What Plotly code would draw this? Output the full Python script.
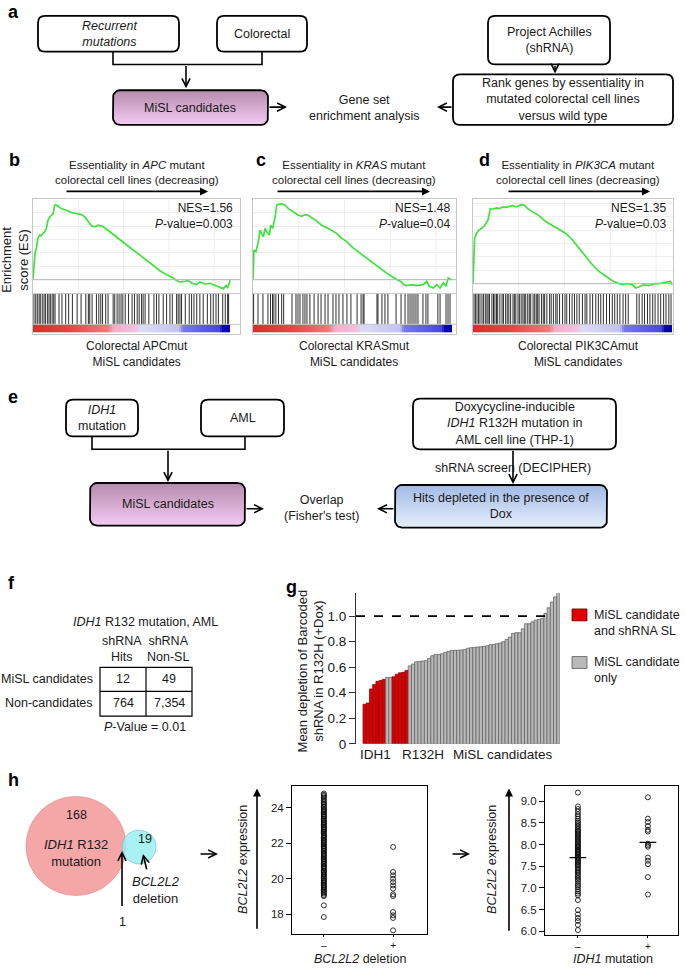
import math
import plotly.graph_objects as go

W, H = 685, 974
FONT = "Liberation Sans, Arial, Helvetica, sans-serif"
TXT = "#1a1a1a"

# ---------------- data ----------------
# Panels b-d: running enrichment score (x = rank in %, y = ES)
APC_RANK = [0, 0.5, 1.0, 1.7, 2.5, 3.4, 4.2, 5.1, 5.9, 6.8, 7.6, 8.5, 9.3, 10.2, 11.0, 11.5, 12.7, 14.4,
            16.9, 19.5, 22.0, 24.6, 26.3, 28.0, 29.7, 31.4, 33.1, 34.7, 36.4, 39.0, 41.5, 44.1, 47.5,
            50.8, 54.2, 57.6, 61.0, 64.4, 67.8, 71.2, 72.9, 74.6, 77.1, 78.8, 80.5, 83.1, 84.7, 87.3,
            89.8, 92.4, 94.9, 96.6, 98.0, 98.8, 99.7, 100]
APC_ES = [0, 0.111, 0.198, 0.235, 0.309, 0.333, 0.328, 0.346, 0.358, 0.383, 0.444, 0.469, 0.481, 0.494,
          0.556, 0.560, 0.548, 0.531, 0.519, 0.501, 0.494, 0.486, 0.469, 0.432, 0.402, 0.395, 0.407,
          0.402, 0.388, 0.358, 0.328, 0.296, 0.259, 0.222, 0.185, 0.148, 0.106, 0.067, 0.037, 0.012,
          -0.007, -0.017, -0.012, -0.007, -0.025, -0.037, -0.017, -0.032, -0.027, -0.042, -0.057,
          -0.067, -0.044, -0.057, -0.025, 0.005]
KRAS_RANK = [0, 0.5, 1.5, 2.7, 3.5, 4.4, 5.2, 6.1, 6.9, 8.2, 8.9, 9.9, 11.1, 11.9, 12.8, 14.4, 16.1,
             17.8, 20.3, 22.8, 24.5, 26.1, 27.8, 29.5, 32.0, 34.5, 37.9, 42.0, 44.5, 47.1, 50.4, 53.8,
             57.1, 60.5, 63.8, 67.2, 70.5, 73.0, 74.7, 75.5, 77.2, 79.7, 82.3, 85.6, 87.3, 88.6, 90.6,
             92.3, 94.0, 95.6, 97.0, 98.1, 99.8]
KRAS_ES = [0, 0.222, 0.210, 0.284, 0.370, 0.346, 0.321, 0.383, 0.358, 0.333, 0.407, 0.383, 0.469, 0.556,
           0.563, 0.568, 0.556, 0.531, 0.506, 0.481, 0.474, 0.486, 0.481, 0.464, 0.437, 0.407, 0.383,
           0.346, 0.310, 0.284, 0.235, 0.198, 0.160, 0.123, 0.086, 0.049, 0.017, -0.007, -0.017,
           -0.037, -0.044, -0.037, -0.044, -0.037, -0.012, -0.049, -0.062, -0.037, -0.062, -0.025,
           -0.049, 0.012, 0.0]
PIK3CA_RANK = [0, 0.3, 0.8, 1.7, 3.0, 4.2, 5.8, 7.5, 8.7, 10.0, 11.7, 13.3, 15.0, 16.7, 18.3, 20.0, 21.7,
               24.2, 25.8, 27.5, 30.0, 33.3, 36.7, 40.0, 43.3, 46.7, 50.0, 53.3, 56.7, 60.0, 63.3, 66.7,
               70.0, 72.5, 75.0, 77.5, 80.0, 81.7, 83.3, 85.8, 88.3, 91.7, 94.2, 96.7, 99.2, 100]
PIK3CA_ES = [0, 0.190, 0.338, 0.375, 0.400, 0.412, 0.432, 0.474, 0.560, 0.556, 0.565, 0.560, 0.573, 0.570,
             0.578, 0.585, 0.573, 0.590, 0.585, 0.560, 0.536, 0.506, 0.462, 0.432, 0.400, 0.375, 0.326,
             0.264, 0.202, 0.141, 0.091, 0.054, 0.022, 0.005, -0.007, 0.0, -0.007, -0.032, -0.025,
             -0.007, -0.015, 0.0, 0.002, 0.010, 0.017, -0.007]
# gene-set hit positions (rank in %)
APC_HITS = [0.5, 1.4, 2.2, 3.1, 3.7, 4.7, 5.6, 6.3, 7.3, 8.1, 8.8, 9.7, 10.5, 11.2, 13.2, 14.7, 16.6, 18.1,
            20.0, 22.4, 24.4, 26.8, 28.1, 28.8, 30.0, 32.2, 33.4, 34.4, 35.3, 36.9, 38.1, 40.7, 41.5,
            42.7, 43.7, 44.7, 45.6, 46.8, 48.5, 50.3, 51.5, 52.9, 53.9, 55.1, 55.9, 56.9, 58.8, 61.4,
            62.7, 63.9, 66.1, 67.8, 69.5, 70.7, 72.9, 73.7, 74.6, 75.4, 77.3, 79.3, 80.5, 81.7, 83.1,
            84.7, 86.4, 88.5, 90.2, 91.5, 92.9, 94.1, 96.3, 97.6, 98.8, 99.3]
KRAS_HITS = [0.3, 2.5, 5.0, 7.5, 8.8, 9.8, 10.5, 11.5, 12.8, 14.4, 15.4, 19.6, 21.6, 22.6, 23.6, 25.1,
             26.1, 27.1, 28.6, 30.7, 32.7, 34.2, 36.2, 37.7, 40.2, 41.7, 43.2, 45.2, 47.2, 49.2, 52.3,
             54.3, 55.3, 55.8, 62.3, 62.8, 64.8, 66.3, 67.8, 71.9, 74.4, 76.4, 77.9, 78.9, 79.9, 80.9,
             81.9, 82.9, 85.4, 86.9, 87.9, 92.9, 94.0, 97.0, 98.0, 99.0]
PIK3CA_HITS = [0.5, 1.2, 2.0, 2.8, 3.5, 4.5, 5.3, 6.2, 7.0, 7.6, 8.3, 9.5, 10.3, 11.0, 11.8, 12.4, 13.5,
               14.6, 15.3, 16.4, 17.2, 18.0, 18.9, 20.1, 20.8, 21.5, 22.6, 23.3, 24.2, 25.1, 25.8, 26.5,
               27.5, 28.3, 29.0, 30.2, 31.0, 31.8, 32.5, 33.2, 34.4, 35.3, 36.0, 37.1, 38.5, 39.3, 40.4,
               41.6, 42.3, 43.5, 45.0, 46.2, 47.1, 48.5, 49.8, 51.0, 52.2, 53.4, 55.0, 56.3, 57.2, 58.8,
               60.1, 61.7, 63.0, 64.2, 65.5, 67.1, 68.6, 70.0, 71.2, 72.5, 73.8, 75.4, 76.7, 78.0, 82.3,
               83.5, 85.0, 86.2, 87.7, 88.9, 90.3, 91.5, 93.0, 94.3, 95.8, 97.0, 98.4, 99.5]
GSEA_GENES = ["APC", "KRAS", "PIK3CA"]
GSEA_NES = ["1.56", "1.48", "1.35"]
GSEA_P = ["0.003", "0.04", "0.03"]
GSEA_LABELS = ["Colorectal APCmut", "Colorectal KRASmut", "Colorectal PIK3CAmut"]

# Panel f: contingency table
TABLE_ROWS = ["MiSL candidates", "Non-candidates"]
TABLE_COLS = ["shRNA<br>Hits", "shRNA<br>Non-SL"]
TABLE_VALUES = [["12", "49"], ["764", "7,354"]]
FISHER_P = "0.01"

# Panel g: mean depletion per MiSL candidate (sorted)
DEPLETION = [0.31, 0.32, 0.43, 0.465, 0.49, 0.495, 0.505, 0.52, 0.52, 0.525, 0.545, 0.556, 0.56, 0.575,
             0.61, 0.625, 0.643, 0.645, 0.648, 0.653, 0.67, 0.69, 0.70, 0.70, 0.705, 0.716, 0.724, 0.73,
             0.732, 0.733, 0.735, 0.738, 0.748, 0.753, 0.755, 0.758, 0.76, 0.763, 0.768, 0.776, 0.778,
             0.784, 0.789, 0.80, 0.818, 0.836, 0.865, 0.87, 0.87, 0.90, 0.94, 0.94, 0.955, 0.968, 0.975,
             0.98, 1.02, 1.065, 1.11, 1.15, 1.19]
DEPLETION_GROUP = ["sl"] * 7 + ["only"] * 2 + ["sl"] * 5 + ["only"] * 47
DEPLETION_THRESHOLD = 1.0

# Panel h
VENN_IDH1 = "168"
VENN_BCL2L2 = "19"
VENN_BOTH = "1"
DEL_NEG = [17.84, 18.5, 19.02, 19.08, 19.17, 19.24, 19.33, 19.39, 19.47, 19.52, 19.61, 19.66, 19.74,
           19.79, 19.88, 19.92, 20.01, 20.07, 20.12, 20.21, 20.26, 20.35, 20.41, 20.46, 20.55, 20.6,
           20.68, 20.72, 20.81, 20.86, 20.94, 21.0, 21.08, 21.13, 21.21, 21.27, 21.34, 21.4, 21.46,
           21.55, 21.59, 21.68, 21.73, 21.81, 21.86, 21.94, 22.0, 22.06, 22.14, 22.19, 22.28, 22.33,
           22.41, 22.46, 22.54, 22.61, 22.66, 22.74, 22.79, 22.88, 22.92, 23.01, 23.06, 23.14, 23.19,
           23.27, 23.34, 23.39, 23.48, 23.52, 23.61, 23.66, 23.74, 23.8, 23.87, 23.93, 24.02, 24.07,
           24.16, 24.23, 24.31, 24.4, 24.49, 24.58, 24.66, 24.73, 24.8]
DEL_POS = [21.79, 20.38, 20.19, 20.0, 19.81, 19.62, 19.44, 19.12, 19.02, 18.12, 17.94, 17.79, 17.09]
IDH_NEG = [6.03, 6.15, 6.24, 6.31, 6.39, 6.49, 6.72, 6.83, 6.87, 6.92, 6.97, 7.02, 7.06, 7.1, 7.15, 7.19,
           7.23, 7.27, 7.31, 7.35, 7.38, 7.42, 7.45, 7.49, 7.52, 7.55, 7.58, 7.61, 7.64, 7.67, 7.7, 7.72,
           7.75, 7.78, 7.8, 7.83, 7.86, 7.88, 7.91, 7.94, 7.96, 7.99, 8.02, 8.05, 8.08, 8.11, 8.14, 8.17,
           8.2, 8.23, 8.26, 8.29, 8.32, 8.35, 8.39, 8.43, 8.47, 8.51, 8.55, 8.6, 8.65, 8.7, 8.76, 8.82,
           8.88, 9.2]
IDH_POS = [9.09, 8.6, 8.52, 8.43, 8.34, 8.3, 8.02, 7.98, 7.95, 7.7, 7.63, 7.55, 7.25, 6.85]
IDH_MEANS = [7.7, 8.05]

# colour bar of ranked list
CBAR_SCALE = [[0.0, '#dc2c2c'], [0.2, '#e44848'], [0.38, '#ee7a7a'], [0.41, '#f3afcb'],
              [0.52, '#f2bfe0'], [0.55, '#dcdcf7'], [0.74, '#c2c2f2'], [0.76, '#7878ea'],
              [0.95, '#4646dc'], [0.96, '#0808b6'], [1.0, '#0000b0']]

# ---------------- figure ----------------
fig = go.Figure()
ann = []
shapes = []


def X(px):
    return px / W


def Y(py):
    return 1 - py / H


def txt(x, y, s, size=12, xanchor='center', yanchor='middle', angle=0, align='center'):
    ann.append(dict(x=x, y=y, xref='x7', yref='y7', text=s, showarrow=False,
                    font=dict(size=size, family=FONT, color=TXT), xanchor=xanchor,
                    yanchor=yanchor, textangle=angle, align=align))


def arrow(xh, yh, xt, yt, head=5, width=1.6, size=1.0):
    ann.append(dict(x=xh, y=yh, ax=xt, ay=yt, xref='x7', yref='y7', axref='x7', ayref='y7',
                    text='', showarrow=True, arrowhead=head, arrowsize=size, arrowwidth=width,
                    arrowcolor='black', standoff=0, startstandoff=0))


def rrect(x0, y0, x1, y1, r=7, width=1.8):
    p = (f"M{x0 + r},{y0} L{x1 - r},{y0} Q{x1},{y0} {x1},{y0 + r} L{x1},{y1 - r} "
         f"Q{x1},{y1} {x1 - r},{y1} L{x0 + r},{y1} Q{x0},{y1} {x0},{y1 - r} L{x0},{y0 + r} "
         f"Q{x0},{y0} {x0 + r},{y0} Z")
    shapes.append(dict(type='path', path=p, xref='x7', yref='y7',
                       line=dict(color='black', width=width), fillcolor='white', layer='below'))


def grad_box(x0, y0, x1, y1, ctop, cbot, r=7, n=6):
    xs, ys = [], []
    corners = [(x1 - r, y0 + r, -90, 0), (x1 - r, y1 - r, 0, 90),
               (x0 + r, y1 - r, 90, 180), (x0 + r, y0 + r, 180, 270)]
    for cx, cy, a0, a1 in corners:
        for i in range(n + 1):
            a = math.radians(a0 + (a1 - a0) * i / n)
            xs.append(cx + r * math.cos(a))
            ys.append(cy + r * math.sin(a))
    xs.append(xs[0]); ys.append(ys[0])
    fig.add_trace(go.Scatter(x=xs, y=ys, mode='lines', fill='toself',
                             fillgradient=dict(type='vertical', colorscale=[[0, ctop], [1, cbot]]),
                             line=dict(color='black', width=1.8), hoverinfo='skip',
                             xaxis='x7', yaxis='y7'))


def path_line(pts, width=1.6):
    p = "M" + " L".join(f"{a},{b}" for a, b in pts)
    shapes.append(dict(type='path', path=p, xref='x7', yref='y7',
                       line=dict(color='black', width=width)))


# ---- panel letters ----
for lab, lx, ly in [('a', 6, 12), ('b', 7, 161), ('c', 254, 161), ('d', 477, 161),
                    ('e', 6, 400), ('f', 6, 588), ('g', 284, 592), ('h', 6, 786)]:
    ann.append(dict(x=lx, y=ly, xref='x7', yref='y7', text=f'<b>{lab}</b>', showarrow=False,
                    font=dict(size=18, family=FONT, color='black'), xanchor='left', yanchor='middle'))

# ---- panel a ----
rrect(38, 16, 179, 52)
txt(109, 34, '<i>Recurrent<br>mutations</i>', size=12.5)
rrect(217, 16, 307, 52)
txt(262, 34, 'Colorectal', size=12.5)
path_line([(113, 52), (113, 65), (262, 65), (262, 52)])
arrow(186, 89, 186, 65)
grad_box(113, 91, 268, 126, '#f5caf5', '#b48cab')
txt(190, 108.5, 'MiSL candidates', size=12.5)
arrow(287, 108, 268, 108)
txt(364, 109, 'Gene set<br>enrichment analysis', size=12.5)
rrect(488, 16, 610, 65)
txt(549, 40, 'Project Achilles<br>(shRNA)', size=12.5)
arrow(555, 74, 555, 65)
rrect(453, 75, 673, 126)
txt(563, 100.5, 'Rank genes by essentiality in<br>mutated colorectal cell lines<br>versus wild type',
    size=12.5)
arrow(437, 108, 453, 108)

# ---- panels b-d (GSEA) ----
GEOM = [dict(left=33, right=240, end=230, zero=282, tx=137, ax0=65, ax1=208, nes=235),
        dict(left=253, right=456, end=452, zero=282, tx=354, ax0=276, ax1=430, nes=452),
        dict(left=473, right=673, end=672, zero=286, tx=578, ax0=507, ax1=650, nes=668)]
K = 0.6 / 81
TOP, ESB, HB, CB, BOT = 201, 296, 327, 335, 337
series = [(APC_RANK, APC_ES, APC_HITS), (KRAS_RANK, KRAS_ES, KRAS_HITS),
          (PIK3CA_RANK, PIK3CA_ES, PIK3CA_HITS)]
cb_edges = list(range(0, 101))
cb_z = [[e + 0.5 for e in range(100)]]
for i, ((rk, es, hits), g) in enumerate(zip(series, GEOM)):
    sfx = '' if i == 0 else str(i + 1)
    xa, ya = 'x' + sfx, 'y' + sfx
    val = (lambda z: (lambda py: (z - py) * K))(g['zero'])
    xmax = (g['right'] - g['left']) / ((g['end'] - g['left']) / 100.0)
    fig.add_trace(go.Heatmap(x=cb_edges, y=[val(CB), val(HB)], z=cb_z, colorscale=CBAR_SCALE,
                             zmin=0, zmax=100, showscale=False, hoverinfo='skip',
                             xaxis=xa, yaxis=ya))
    hx, hy = [], []
    for h in hits:
        hx += [h, h, None]
        hy += [val(ESB), val(HB), None]
    fig.add_trace(go.Scatter(x=hx, y=hy, mode='lines', line=dict(color='rgba(10,10,10,0.85)', width=1),
                             hoverinfo='skip', xaxis=xa, yaxis=ya))
    fig.add_trace(go.Scatter(x=rk, y=es, mode='lines', line=dict(color='#3be33b', width=1.7),
                             hoverinfo='skip', xaxis=xa, yaxis=ya))
    gridv = [0.1, 0.2, 0.3, 0.4, 0.5] + ([0.6] if val(TOP) > 0.62 else [])
    fig.layout['xaxis' + sfx] = dict(domain=[X(g['left']), X(g['right'])], range=[0, xmax],
                                     anchor=ya, showline=True, mirror=True, linecolor='#c6c6c6',
                                     linewidth=1, showgrid=False, zeroline=False,
                                     showticklabels=False, ticks='')
    fig.layout['yaxis' + sfx] = dict(domain=[Y(BOT), Y(TOP)], range=[val(BOT), val(TOP)],
                                     anchor=xa, showline=True, mirror=True, linecolor='#c6c6c6',
                                     linewidth=1, tickvals=gridv, showgrid=True, gridcolor='#eeeeee',
                                     showticklabels=False, ticks='', zeroline=False)
    for gx in [23, 46, 69, 92]:
        shapes.append(dict(type='line', xref=xa, yref=ya, x0=gx, x1=gx, y0=val(ESB), y1=val(TOP),
                           line=dict(color='#eeeeee', width=1), layer='below'))
    for yy, col in [(0, '#b4b4b4'), (val(ESB), '#c6c6c6'), (val(HB), '#c6c6c6')]:
        shapes.append(dict(type='line', xref=xa, yref=ya, x0=0, x1=xmax, y0=yy, y1=yy,
                           line=dict(color=col, width=1)))
    txt(g['tx'], 173.5, f'Essentiality in <i>{GSEA_GENES[i]}</i> mutant<br>colorectal cell lines (decreasing)',
        size=11.5)
    arrow(g['ax1'], 193, g['ax0'], 193, head=2, width=1.6, size=1.0)
    txt(g['nes'], 218, f'NES={GSEA_NES[i]}<br><i>P</i>-value={GSEA_P[i]}', size=12,
        xanchor='right', align='right')
    txt(g['tx'], 357, f'{GSEA_LABELS[i]}<br>MiSL candidates', size=12)

txt(15, 262, 'Enrichment<br>score (ES)', size=13, angle=-90)

# ---- panel e ----
rrect(66, 403, 138, 440)
txt(102, 421.5, '<i>IDH1</i><br>mutation', size=12.5)
rrect(201, 403, 284, 440)
txt(242.5, 421.5, 'AML', size=12.5)
path_line([(92, 440), (92, 453), (245, 453), (245, 440)])
arrow(168, 486, 168, 453)
grad_box(90, 487, 245, 530, '#f5caf5', '#b48cab')
txt(167.5, 508.5, 'MiSL candidates', size=12.5)
arrow(264, 513, 245, 513)
txt(321, 512, 'Overlap<br>(Fisher\'s test)', size=12.5)
arrow(377, 513, 395, 513)
rrect(413, 402, 616, 453)
txt(514.5, 427.5, 'Doxycycline-inducible<br><i>IDH1</i> R132H mutation in<br>AML cell line (THP-1)',
    size=12.5)
arrow(513, 488, 513, 453)
txt(513, 472, 'shRNA screen (DECIPHER)', size=12.5)
grad_box(395, 489, 607, 532, '#e6eefb', '#a2bae6')
txt(501, 510.5, 'Hits depleted in the presence of<br>Dox', size=12.5)

# ---- panel f ----
txt(145, 627, '<i>IDH1</i> R132 mutation, AML', size=12.5)
txt(122, 654, TABLE_COLS[0], size=12.5)
txt(168, 654, TABLE_COLS[1], size=12.5)
shapes.append(dict(type='rect', xref='x7', yref='y7', x0=100, x1=192, y0=673, y1=722,
                   line=dict(color='black', width=1.2)))
shapes.append(dict(type='line', xref='x7', yref='y7', x0=146, x1=146, y0=673, y1=722,
                   line=dict(color='black', width=1.2)))
shapes.append(dict(type='line', xref='x7', yref='y7', x0=100, x1=192, y0=697, y1=697,
                   line=dict(color='black', width=1.2)))
for r, (rowlab, yy) in enumerate(zip(TABLE_ROWS, [684.5, 708.5])):
    txt(95, yy, rowlab, xanchor='right', size=12.5)
    txt(123, yy, TABLE_VALUES[r][0], size=12.5)
    txt(169, yy, TABLE_VALUES[r][1], size=12.5)
txt(145, 733, f'<i>P</i>-Value = {FISHER_P}', size=12.5)

# ---- panel g ----
bar_fill = ['#e00000' if gg == 'sl' else '#b9b9b9' for gg in DEPLETION_GROUP]
bar_line = ['#7a0000' if gg == 'sl' else '#5c5c5c' for gg in DEPLETION_GROUP]
fig.add_trace(go.Bar(x=list(range(len(DEPLETION))), y=DEPLETION, width=1.0,
                     marker=dict(color=bar_fill, line=dict(color=bar_line, width=0.7)),
                     hoverinfo='skip', xaxis='x4', yaxis='y4'))
fig.layout['xaxis4'] = dict(domain=[X(356), X(560)], range=[-2.67, 60.5], visible=False, anchor='y4')
fig.layout['yaxis4'] = dict(domain=[Y(750), Y(598)], range=[0, 1.18], anchor='x4',
                            tickvals=[0, 0.2, 0.4, 0.6, 0.8, 1.0],
                            ticktext=['0', '0.2', '0.4', '0.6', '0.8', '1.0'],
                            ticks='outside', ticklen=6, tickcolor='#333', showline=True,
                            linecolor='#333', linewidth=1, showgrid=False, zeroline=False,
                            tickfont=dict(size=13.5, family=FONT, color=TXT))
shapes.append(dict(type='line', xref='x4', yref='y4', x0=-2.67, x1=58.3,
                   y0=DEPLETION_THRESHOLD, y1=DEPLETION_THRESHOLD,
                   line=dict(color='black', width=1.6, dash='dash')))
txt(311, 677, 'Mean depletion of Barcoded<br>shRNA in R132H (+Dox)', size=13, angle=-90)
txt(375, 761, 'IDH1', size=13.5)
txt(423, 761, 'R132H', size=13.5)
txt(503, 761, 'MiSL candidates', size=13.5)
shapes.append(dict(type='rect', xref='x7', yref='y7', x0=572, x1=587, y0=614, y1=626,
                   fillcolor='#e00000', line=dict(color='#7a0000', width=0.8)))
shapes.append(dict(type='rect', xref='x7', yref='y7', x0=572, x1=587, y0=662, y1=674,
                   fillcolor='#b9b9b9', line=dict(color='#5c5c5c', width=0.8)))
txt(592, 628, 'MiSL candidate<br>and shRNA SL', size=12.5, xanchor='left', align='left')
txt(592, 676, 'MiSL candidate<br>only', size=12.5, xanchor='left', align='left')

# ---- panel h: Venn ----
shapes.append(dict(type='circle', xref='x7', yref='y7', x0=26, x1=126, y0=803, y1=903,
                   fillcolor='#f5a6a6', line=dict(color='#d98c8c', width=0.6), layer='below'))
shapes.append(dict(type='circle', xref='x7', yref='y7', x0=122, x1=156, y0=837, y1=871,
                   fillcolor='rgba(150,238,240,0.82)', line=dict(color='#6cb8c4', width=0.6),
                   layer='below'))
txt(76, 822, VENN_IDH1, size=12.5)
txt(76, 860, '<i>IDH1</i> R132<br>mutation', size=13)
txt(145, 846, VENN_BCL2L2, size=12.5)
arrow(122, 858, 122, 915, head=5, width=1.6)
txt(122, 921, VENN_BOTH, yanchor='top', size=12.5)
arrow(143, 861, 147, 878, head=5, width=1.6)
txt(156, 897, '<i>BCL2L2</i><br>deletion', size=13)
arrow(218, 861, 199, 861, head=5, width=1.6)
arrow(470, 861, 451, 861, head=5, width=1.6)

# ---- panel h: scatter plots ----
mk = dict(symbol='circle-open', size=5, color='black', line=dict(width=0.8))
fig.add_trace(go.Scatter(x=[0] * len(DEL_NEG), y=DEL_NEG, mode='markers', marker=mk,
                         hoverinfo='skip', xaxis='x5', yaxis='y5'))
fig.add_trace(go.Scatter(x=[1] * len(DEL_POS), y=DEL_POS, mode='markers', marker=mk,
                         hoverinfo='skip', xaxis='x5', yaxis='y5'))
fig.add_trace(go.Scatter(x=[0] * len(IDH_NEG), y=IDH_NEG, mode='markers', marker=mk,
                         hoverinfo='skip', xaxis='x6', yaxis='y6'))
fig.add_trace(go.Scatter(x=[1] * len(IDH_POS), y=IDH_POS, mode='markers', marker=mk,
                         hoverinfo='skip', xaxis='x6', yaxis='y6'))
for gx, m in zip([0, 1], IDH_MEANS):
    fig.add_trace(go.Scatter(x=[gx - 0.12, gx + 0.12], y=[m, m], mode='lines',
                             line=dict(color='black', width=1.2), hoverinfo='skip',
                             xaxis='x6', yaxis='y6'))

ax_common = dict(showline=True, mirror=True, linecolor='black', linewidth=1, showgrid=False,
                 zeroline=False, ticks='outside', tickcolor='black')
fig.layout['xaxis5'] = dict(domain=[X(292), X(427)], range=[-0.46, 1.49], anchor='y5',
                            tickvals=[0, 1], ticktext=['\u2013', '+'], ticklen=2,
                            tickfont=dict(size=10, family=FONT, color=TXT), **ax_common)
fig.layout['yaxis5'] = dict(domain=[Y(942), Y(793)], range=[16.87, 25.2], anchor='x5',
                            tickvals=[18, 20, 22, 24], ticklen=5,
                            tickfont=dict(size=11.5, family=FONT, color=TXT), **ax_common)
fig.layout['xaxis6'] = dict(domain=[X(545), X(678)], range=[-0.47, 1.43], anchor='y6',
                            tickvals=[0, 1], ticktext=['\u2013', '+'], ticklen=2,
                            tickfont=dict(size=10, family=FONT, color=TXT), **ax_common)
fig.layout['yaxis6'] = dict(domain=[Y(943), Y(793)], range=[5.91, 9.34], anchor='x6',
                            tickvals=[6.0, 6.5, 7.0, 7.5, 8.0, 8.5, 9.0], tickformat='.1f',
                            ticklen=5, tickfont=dict(size=11.5, family=FONT, color=TXT), **ax_common)
arrow(257, 795, 257, 938, head=2, width=1.6, size=1.0)
txt(243, 867, '<i>BCL2L2</i> expression', size=12.5, angle=-90)
txt(360, 967, '<i>BCL2L2</i> deletion', size=12.5)
arrow(509, 795, 509, 940, head=2, width=1.6, size=1.0)
txt(492, 867, '<i>BCL2L2</i> expression', size=12.5, angle=-90)
txt(613, 967, '<i>IDH1</i> mutation', size=12.5)

# ---- overlay axis (pixel coordinates) ----
fig.layout['xaxis7'] = dict(domain=[0, 1], range=[0, W], visible=False, anchor='y7', fixedrange=True)
fig.layout['yaxis7'] = dict(domain=[0, 1], range=[H, 0], visible=False, anchor='x7', fixedrange=True)

fig.update_layout(width=W, height=H, margin=dict(l=0, r=0, t=0, b=0), paper_bgcolor='white',
                  plot_bgcolor='rgba(0,0,0,0)', showlegend=False, bargap=0,
                  font=dict(family=FONT, color=TXT), annotations=ann, shapes=shapes)
fig.write_html("out.html", config={'displayModeBar': False, 'staticPlot': True},
               post_script="document.body.style.margin='0';document.body.style.padding='0';"
                           "document.body.style.overflow='hidden';")
